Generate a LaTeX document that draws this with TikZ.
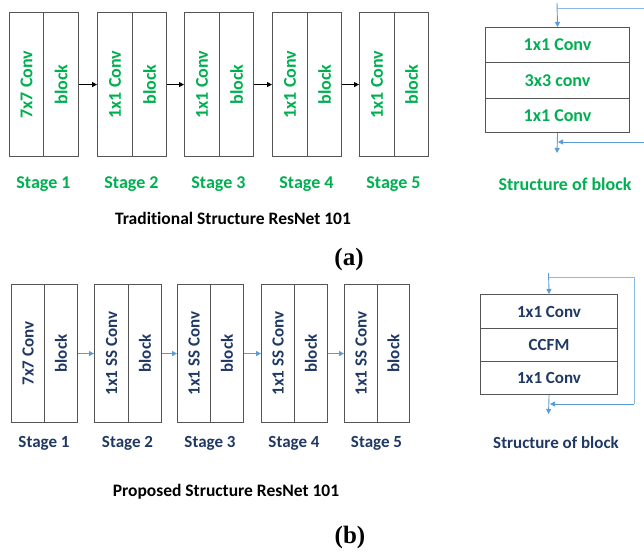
\documentclass[tikz,border=0pt]{standalone}
\usepackage{fontspec}
\usepackage{graphicx}
\setmainfont{Carlito}[Ligatures=NoCommon]
\newfontfamily\tagfont{Liberation Serif}
\usetikzlibrary{arrows.meta}
\definecolor{grn}{RGB}{0,176,80}
\definecolor{navy}{RGB}{31,56,100}
\definecolor{lblue}{RGB}{91,155,213}
\definecolor{edge}{RGB}{85,85,85}
\tikzset{
  cell/.style={draw=edge, line width=1.1pt, inner sep=0pt, anchor=north west},
  halfa/.style={cell, minimum height=144pt, text=grn, font=\fontsize{18}{20}\selectfont\bfseries},
  halfb/.style={cell, minimum height=138pt, text=navy, font=\fontsize{17}{19}\selectfont\bfseries},
  rowa/.style={cell, minimum width=144pt, text=grn, font=\fontsize{18}{20}\selectfont\bfseries},
  rowb/.style={cell, minimum width=137pt, text=navy, font=\fontsize{17}{19}\selectfont\bfseries},
  lbla/.style={text=grn, font=\fontsize{18}{20}\selectfont\bfseries, inner sep=0pt},
  lblb/.style={text=navy, font=\fontsize{17}{19}\selectfont\bfseries, inner sep=0pt},
  capt/.style={text=black, font=\fontsize{17.5}{19}\selectfont\bfseries, inner sep=0pt},
  tag/.style={text=black, font=\tagfont\fontsize{25}{27}\selectfont\bfseries, inner sep=0pt},
  arrk/.style={draw=black, line width=0.9pt, -{Triangle[length=5pt,width=5pt]}},
  arrb/.style={draw=lblue, line width=0.9pt, -{Triangle[length=5pt,width=5pt]}},
  lineb/.style={draw=lblue!70, line width=0.9pt},
}
\begin{document}
\begin{tikzpicture}[x=1pt,y=-1pt]
\useasboundingbox (0,0) rectangle (644,551);
% ---------- (a) ----------
\foreach \i/\l/\m/\r/\t in {1/9/43/78/7x7 Conv,2/97/132/166/1x1 Conv,3/184/219/253/1x1 Conv,4/272/307/341/1x1 Conv,5/359/394/428/1x1 Conv}{
  \pgfmathsetmacro{\wa}{\m-\l}
  \pgfmathsetmacro{\wb}{\r-\m}
  \node[halfa, minimum width=\wa pt] (a\i L) at (\l,12) {\rotatebox{90}{\t}};
  \node[halfa, minimum width=\wb pt] (a\i R) at (\m,12) {\rotatebox{90}{block}};
  \node[lbla] (sa\i) at ({(\l+\r)/2},184) {Stage \i};
}
\draw[arrk] (a1R.east) -- (a2L.west);
\draw[arrk] (a2R.east) -- (a3L.west);
\draw[arrk] (a3R.east) -- (a4L.west);
\draw[arrk] (a4R.east) -- (a5L.west);
\node[rowa, minimum height=35pt] (ra1) at (485,27) {1x1 Conv};
\node[rowa, minimum height=36pt] (ra2) at (485,62) {3x3 conv};
\node[rowa, minimum height=34pt] (ra3) at (485,98) {1x1 Conv};
\node[lbla] (sba) at (565,184) {Structure of block};
\coordinate (ain) at (557,3);
\coordinate (atl) at (557,8);
\coordinate (atr) at (644,8);
\coordinate (aout) at (557,153);
\coordinate (abr) at (644,142);
\coordinate (abl) at (558,142);
\draw[arrb] (ain) -- (ra1.north);
\draw[lineb] (atl) -- (atr);
\draw[arrb] (ra3.south) -- (aout);
\draw[arrb] (abr) -- (abl);
\node[capt] (cap1) at (233,218) {Traditional Structure ResNet 101};
\node[tag] (taga) at (349,259) {(a)};
% ---------- (b) ----------
\foreach \i/\l/\m/\r/\t in {1/11/44/77/7x7 Conv,2/94/128/161/1x1 SS Conv,3/177/210/243/1x1 SS Conv,4/261/294/327/1x1 SS Conv,5/344/377/409/1x1 SS Conv}{
  \pgfmathsetmacro{\wa}{\m-\l}
  \pgfmathsetmacro{\wb}{\r-\m}
  \node[halfb, minimum width=\wa pt] (b\i L) at (\l,284) {\rotatebox{90}{\t}};
  \node[halfb, minimum width=\wb pt] (b\i R) at (\m,284) {\rotatebox{90}{block}};
  \node[lblb] (sb\i) at ({(\l+\r)/2},443) {Stage \i};
}
\draw[arrb] (b1R.east) -- (b2L.west);
\draw[arrb] (b2R.east) -- (b3L.west);
\draw[arrb] (b3R.east) -- (b4L.west);
\draw[arrb] (b4R.east) -- (b5L.west);
\node[rowb, minimum height=34pt] (rb1) at (480,294) {1x1 Conv};
\node[rowb, minimum height=33pt] (rb2) at (480,328) {CCFM};
\node[rowb, minimum height=33pt] (rb3) at (480,361) {1x1 Conv};
\node[lblb] (sbb) at (556,443) {Structure of block};
\coordinate (bin) at (548.5,273);
\coordinate (btl) at (548.5,277);
\coordinate (btr) at (634,277);
\coordinate (bbr) at (634,404);
\coordinate (bbl) at (550,404);
\coordinate (bout) at (548.5,414);
\draw[arrb] (bin) -- (rb1.north);
\draw[lineb] (btl) -- (btr) -- (bbr);
\draw[arrb] (bbr) -- (bbl);
\draw[arrb] (rb3.south) -- (bout);
\node[capt] (cap2) at (226,492) {Proposed Structure ResNet 101};
\node[tag] (tagb) at (350,537) {(b)};
\end{tikzpicture}
\end{document}
